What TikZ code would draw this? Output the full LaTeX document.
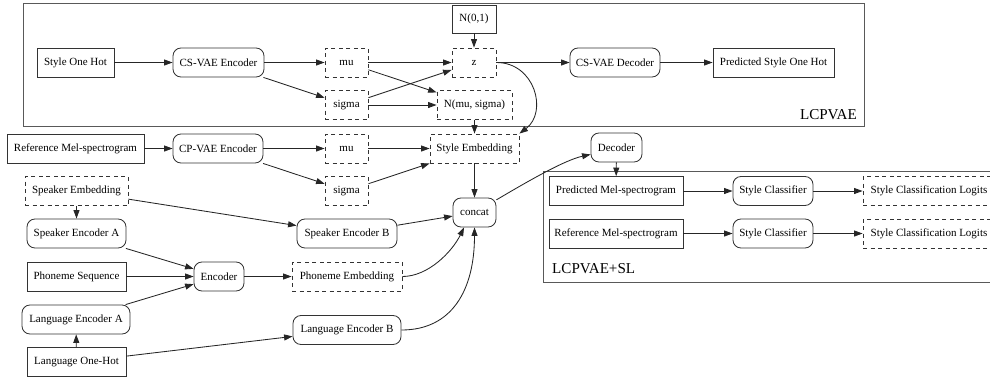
\documentclass[tikz,border=0pt]{standalone}
\usepackage{fontspec}
\setmainfont{Liberation Serif}
\usetikzlibrary{arrows.meta}
\begin{document}
\begin{tikzpicture}[x=1pt,y=-1pt,
  box/.style={draw=black!80, line width=0.85pt, minimum height=29pt, inner sep=0pt,
    font=\fontsize{11}{12}\selectfont, text=black},
  rbox/.style={box, rounded corners=8pt},
  dbox/.style={box, dash pattern=on 4pt off 3.5pt},
  wd/.style={minimum width=#1},
  arr/.style={-{Triangle[length=8.5pt,width=6pt]}, line width=0.85pt, draw=black!85},
  cl/.style={draw=black!65, line width=0.85pt},
  cllabel/.style={font=\fontsize{15.1}{17}\selectfont, inner sep=0pt}
]
\useasboundingbox (0,0) rectangle (990,376);
\clip (0,0) rectangle (990,376);

% clusters
\draw[cl] (23,3) rectangle (864,126);
\node[cllabel, anchor=base east] (lcpvae) at (857,119) {LCPVAE};
\draw[cl] (543,171) rectangle (1000,282);
\node[cllabel, anchor=base west] (lcpvaesl) at (552,273) {LCPVAE+SL};

% LCPVAE cluster
\node[box, wd=77pt] (soh) at (75.5,62.5) {Style One Hot};
\node[rbox, wd=91pt] (csenc) at (218.5,62.5) {CS-VAE Encoder};
\node[dbox, wd=43pt] (mu1) at (346.5,62.5) {mu};
\node[dbox, wd=43pt] (sigma1) at (346.5,105) {sigma};
\node[box, wd=44pt, minimum height=28pt] (n01) at (474,19) {N(0,1)};
\node[dbox, wd=44pt] (z) at (474,62.5) {z};
\node[dbox, wd=75pt] (nms) at (474.5,105) {N(mu, sigma)};
\node[rbox, wd=90pt] (csdec) at (615,62.5) {CS-VAE Decoder};
\node[box, wd=121pt] (psoh) at (773.5,62.5) {Predicted Style One Hot};

% middle
\node[box, wd=137pt] (rmel) at (75.5,148.5) {Reference Mel-spectrogram};
\node[rbox, wd=90pt] (cpenc) at (218,148.5) {CP-VAE Encoder};
\node[dbox, wd=43pt] (mu2) at (346.5,148.5) {mu};
\node[dbox, wd=43pt] (sigma2) at (346.5,191) {sigma};
\node[dbox, wd=89pt] (semb) at (474.5,148.5) {Style Embedding};
\node[rbox, wd=51pt] (dec) at (616.5,147.5) {Decoder};
\node[rbox, wd=43pt] (concat) at (474.5,212.5) {concat};

\node[dbox, wd=103pt] (spemb) at (76.5,191) {Speaker Embedding};
\node[rbox, wd=99pt] (spA) at (76.5,233.5) {Speaker Encoder A};
\node[rbox, wd=100pt] (spB) at (347,233.5) {Speaker Encoder B};

% LCPVAE+SL cluster
\node[box, wd=134pt] (pmel) at (616,191) {Predicted Mel-spectrogram};
\node[rbox, wd=80pt] (sc1) at (773,191) {Style Classifier};
\node[dbox, wd=132pt] (logit1) at (929,191) {Style Classification Logits};
\node[box, wd=134pt] (rmel2) at (616,233.5) {Reference Mel-spectrogram};
\node[rbox, wd=80pt] (sc2) at (773,233.5) {Style Classifier};
\node[dbox, wd=132pt] (logit2) at (929,233.5) {Style Classification Logits};

% bottom
\node[box, wd=99pt] (phseq) at (76.5,276.5) {Phoneme Sequence};
\node[rbox, wd=50pt] (enc) at (219,276.5) {Encoder};
\node[dbox, wd=110pt] (phemb) at (347,276.5) {Phoneme Embedding};
\node[rbox, wd=108pt] (langA) at (76,319.5) {Language Encoder A};
\node[rbox, wd=108pt] (langB) at (347,330) {Language Encoder B};
\node[box, wd=99pt] (lang1h) at (76.5,362) {Language One-Hot};

% edges
\draw[arr] (soh) -- (csenc);
\draw[arr] (csenc) -- (mu1);
\draw[arr] (csenc) -- (sigma1);
\draw[arr] (mu1) -- (z);
\draw[arr] (mu1) -- (nms);
\draw[arr] (sigma1) -- (z);
\draw[arr] (sigma1) -- (nms);
\draw[arr] (n01) -- (z);
\draw[arr] (z) -- (csdec);
\draw[arr] (csdec) -- (psoh);
\draw[arr] (z.east) .. controls (535,62.5) and (548,112) .. (semb.north east);
\draw[arr] (nms) -- (semb);
\draw[arr] (rmel) -- (cpenc);
\draw[arr] (cpenc) -- (mu2);
\draw[arr] (cpenc) -- (sigma2);
\draw[arr] (mu2) -- (semb);
\draw[arr] (sigma2) -- (semb);
\draw[arr] (semb) -- (concat);
\draw[arr] (spemb) -- (spA);
\draw[arr] (spemb) -- (spB);
\draw[arr] (spB) -- (concat);
\draw[arr] (spA) -- (enc);
\draw[arr] (phseq) -- (enc);
\draw[arr] (langA) -- (enc);
\draw[arr] (enc) -- (phemb);
\draw[arr] (phemb.east) .. controls (428,276.5) and (452,252) .. (concat.235);
\draw[arr] (langB.east) .. controls (452,330) and (474.5,290) .. (concat.south);
\draw[arr] (concat.30) .. controls (530,180) and (565,160) .. (dec.195);
\draw[arr] (dec) -- (pmel);
\draw[arr] (pmel) -- (sc1);
\draw[arr] (sc1) -- (logit1);
\draw[arr] (rmel2) -- (sc2);
\draw[arr] (sc2) -- (logit2);
\draw[arr] (lang1h) -- (langA);
\draw[arr] (lang1h) -- (langB);
\end{tikzpicture}
\end{document}
